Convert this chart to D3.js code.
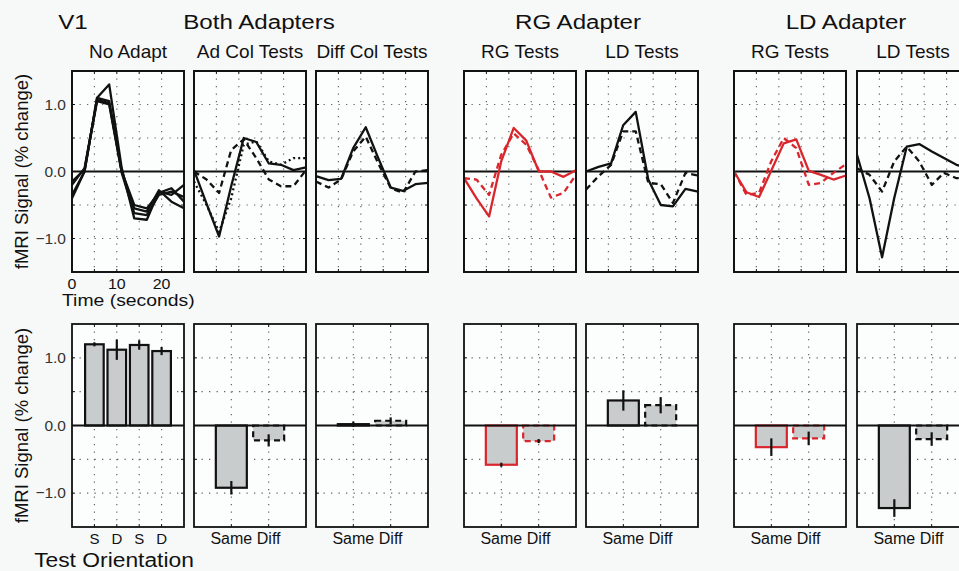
<!DOCTYPE html>
<meta charset="utf-8">
<title>V1 adaptation</title>
<script src="https://cdn.jsdelivr.net/npm/d3@7"></script>
<style>
  body { margin: 0; background: #f7f9f9; }
  text { font-family: "Liberation Sans", Arial, Helvetica, sans-serif; fill: #111; }
</style>
<body>
<div id="my_dataviz"></div>
<script>

// time samples (seconds)
var timeSec = [0, 2.8, 5.6, 8.3, 11.1, 13.9, 16.7, 19.4, 22.2, 25];

// time courses, % change
var noAdaptA = [-0.40, 0.00, 1.10, 1.30, 0.05, -0.70, -0.72, -0.30, -0.35, -0.20];
var noAdaptB = [-0.20, 0.05, 1.07, 1.02, 0.00, -0.50, -0.55, -0.32, -0.25, -0.45];
var noAdaptC = [-0.35, 0.00, 1.10, 1.05, 0.00, -0.55, -0.60, -0.28, -0.45, -0.55];
var noAdaptD = [-0.15, 0.03, 1.05, 1.00, -0.02, -0.62, -0.65, -0.35, -0.30, -0.38];

var adColSame = [0.02, -0.48, -0.97, -0.22, 0.50, 0.44, 0.12, 0.10, 0.02, 0.06];
var adColDiff = [0.00, -0.12, -0.32, 0.32, 0.48, 0.20, -0.12, -0.22, -0.22, 0.02];
var adColDot  = [-0.15, -0.50, -0.90, -0.40, 0.40, 0.45, 0.15, 0.10, 0.20, 0.20];

var diffColSame = [-0.07, -0.13, -0.11, 0.35, 0.66, 0.20, -0.24, -0.29, -0.19, -0.17];
var diffColDiff = [-0.15, -0.24, -0.12, 0.30, 0.52, 0.12, -0.25, -0.32, 0.00, 0.02];

var rgRgSame = [-0.10, -0.40, -0.67, 0.15, 0.65, 0.46, 0.00, 0.00, -0.08, 0.02];
var rgRgDiff = [-0.10, -0.12, -0.35, 0.25, 0.57, 0.40, 0.02, -0.39, -0.32, -0.05];

var rgLdSame = [0.00, 0.07, 0.12, 0.69, 0.89, -0.12, -0.50, -0.52, -0.26, -0.30];
var rgLdDiff = [-0.27, -0.07, 0.10, 0.60, 0.60, -0.17, -0.19, -0.47, -0.02, -0.06];

var ldRgSame = [0.00, -0.31, -0.38, 0.01, 0.42, 0.48, 0.01, -0.05, -0.12, -0.06];
var ldRgDiff = [0.00, -0.35, -0.32, 0.15, 0.50, 0.35, -0.20, -0.17, -0.02, 0.11];

var ldLdSame = [0.25, -0.40, -1.28, -0.40, 0.37, 0.41, 0.30, 0.20, 0.10, 0.05];
var ldLdDiff = [0.05, -0.05, -0.30, 0.15, 0.37, 0.15, -0.20, -0.02, -0.10, -0.10];

// bar heights and errors
var orientLabels = ["S", "D", "S", "D"];
var sameDiffLabels = ["Same", "Diff"];
var noAdaptBars = [1.20, 1.12, 1.19, 1.10], noAdaptErr = [0.03, 0.15, 0.07, 0.06];
var adColBars = [-0.92, -0.22], adColErr = [0.10, 0.09];
var diffColBars = [0.02, 0.07], diffColErr = [0.04, 0.05];
var rgRgBars = [-0.58, -0.23], rgRgErr = [0.03, 0.03];
var rgLdBars = [0.37, 0.30], rgLdErr = [0.15, 0.12];
var ldRgBars = [-0.32, -0.19], ldRgErr = [0.13, 0.10];
var ldLdBars = [-1.22, -0.20], ldLdErr = [0.13, 0.10];

var yTicks = [1.0, 0.0, -1.0];
var yGrid = [-1.0, -0.5, 0.5, 1.0];
var timeTicks = [0, 10, 20];
var timeGrid = [5, 10, 15, 20];

var RED = "#d9262c", INK = "#111";

var panels = [
  {sub: "No Adapt", lines: [
      {v: noAdaptA, c: INK, d: null}, {v: noAdaptB, c: INK, d: null},
      {v: noAdaptC, c: INK, d: null}, {v: noAdaptD, c: INK, d: null}],
   bars: noAdaptBars, err: noAdaptErr, labels: orientLabels, c: INK, dashed: [false, false, false, false]},
  {sub: "Ad Col Tests", lines: [
      {v: adColDot, c: INK, d: "2,3"}, {v: adColDiff, c: INK, d: "6,4"}, {v: adColSame, c: INK, d: null}],
   bars: adColBars, err: adColErr, labels: sameDiffLabels, c: INK, dashed: [false, true]},
  {sub: "Diff Col Tests", lines: [
      {v: diffColDiff, c: INK, d: "6,4"}, {v: diffColSame, c: INK, d: null}],
   bars: diffColBars, err: diffColErr, labels: sameDiffLabels, c: INK, dashed: [false, true]},
  {sub: "RG Tests", lines: [
      {v: rgRgDiff, c: RED, d: "6,4"}, {v: rgRgSame, c: RED, d: null}],
   bars: rgRgBars, err: rgRgErr, labels: sameDiffLabels, c: RED, dashed: [false, true]},
  {sub: "LD Tests", lines: [
      {v: rgLdDiff, c: INK, d: "6,4"}, {v: rgLdSame, c: INK, d: null}],
   bars: rgLdBars, err: rgLdErr, labels: sameDiffLabels, c: INK, dashed: [false, true]},
  {sub: "RG Tests", lines: [
      {v: ldRgDiff, c: RED, d: "6,4"}, {v: ldRgSame, c: RED, d: null}],
   bars: ldRgBars, err: ldRgErr, labels: sameDiffLabels, c: RED, dashed: [false, true]},
  {sub: "LD Tests", lines: [
      {v: ldLdDiff, c: INK, d: "6,4"}, {v: ldLdSame, c: INK, d: null}],
   bars: ldLdBars, err: ldLdErr, labels: sameDiffLabels, c: INK, dashed: [false, true]}
];

// layout
var W = 959, H = 571;
var panelX = [72, 194, 316, 464, 586, 734, 857], panelW = 112;
var topY = 71, topH = 201, barY = 324, barH = 203;

var svg = d3.select("#my_dataviz").append("svg")
    .attr("width", W).attr("height", H)
    .style("display", "block");

function label(g, x, y, str, size, anchor, sx, rot) {
  return g.append("text")
    .attr("transform", "translate(" + x + "," + y + ")" + (rot ? " rotate(" + rot + ")" : "") + " scale(" + (sx || 1) + ",1)")
    .attr("text-anchor", anchor || "middle")
    .style("font-size", size + "px")
    .text(str);
}

var yTop = d3.scaleLinear().domain([-1.5, 1.5]).range([topH, 0]);
var yBar = d3.scaleLinear().domain([-1.5, 1.5]).range([barH, 0]);
var xTime = d3.scaleLinear().domain([0, 25]).range([0, panelW]);

function frame(g, w, h, xs, ys, x, y) {
  g.append("rect").attr("width", w).attr("height", h).attr("fill", "#fcfdfd");
  // dotted grid
  g.selectAll(".gx").data(xs).enter().append("line")
    .attr("x1", function(d) { return x(d); }).attr("x2", function(d) { return x(d); })
    .attr("y1", 0).attr("y2", h)
    .attr("stroke", "#666").attr("stroke-width", 1.2).attr("stroke-dasharray", "1.3,6.2");
  g.selectAll(".gy").data(ys).enter().append("line")
    .attr("y1", function(d) { return y(d); }).attr("y2", function(d) { return y(d); })
    .attr("x1", 0).attr("x2", w)
    .attr("stroke", "#666").attr("stroke-width", 1.2).attr("stroke-dasharray", "1.3,6.2");
  // inward ticks
  xs.forEach(function(d) {
    g.append("line").attr("x1", x(d)).attr("x2", x(d)).attr("y1", 0).attr("y2", 3).attr("stroke", INK);
    g.append("line").attr("x1", x(d)).attr("x2", x(d)).attr("y1", h).attr("y2", h - 3).attr("stroke", INK);
  });
  ys.concat([0]).forEach(function(d) {
    g.append("line").attr("y1", y(d)).attr("y2", y(d)).attr("x1", 0).attr("x2", 3).attr("stroke", INK);
    g.append("line").attr("y1", y(d)).attr("y2", y(d)).attr("x1", w).attr("x2", w - 3).attr("stroke", INK);
  });
}

function border(g, w, h, y) {
  g.append("line").attr("x1", 0).attr("x2", w).attr("y1", y(0)).attr("y2", y(0))
    .attr("stroke", INK).attr("stroke-width", 2.2);
  g.append("rect").attr("width", w).attr("height", h)
    .attr("fill", "none").attr("stroke", INK).attr("stroke-width", 1.8);
}

panels.forEach(function(p, i) {
  // time-course panel
  var g = svg.append("g").attr("transform", "translate(" + panelX[i] + "," + topY + ")");
  frame(g, panelW, topH, timeGrid, yGrid, xTime, yTop);
  border(g, panelW, topH, yTop);
  var line = d3.line()
    .x(function(d, k) { return xTime(timeSec[k]); })
    .y(function(d) { return yTop(d); });
  p.lines.forEach(function(l) {
    g.append("path").datum(l.v).attr("d", line)
      .attr("fill", "none").attr("stroke", l.c).attr("stroke-width", 2.3)
      .attr("stroke-linejoin", "round")
      .attr("stroke-dasharray", l.d);
  });
  // redraw frame edge on top
  g.append("rect").attr("width", panelW).attr("height", topH)
    .attr("fill", "none").attr("stroke", INK).attr("stroke-width", 1.8);
  label(svg, panelX[i] + panelW / 2, 58, p.sub, 19, "middle");

  // bar panel
  var n = p.bars.length;
  var xb = d3.scaleLinear().domain([0, n + 1]).range([0, panelW]);
  var bw = xb(0.83) - xb(0);
  var centers = d3.range(1, n + 1);
  var gb = svg.append("g").attr("transform", "translate(" + panelX[i] + "," + barY + ")");
  frame(gb, panelW, barH, centers, yGrid, xb, yBar);
  gb.selectAll(".bar").data(p.bars).enter().append("rect")
    .attr("x", function(d, k) { return xb(k + 1) - bw / 2; })
    .attr("y", function(d) { return yBar(Math.max(d, 0)); })
    .attr("width", bw)
    .attr("height", function(d) { return Math.abs(yBar(d) - yBar(0)); })
    .attr("fill", "#c9cccd")
    .attr("stroke", p.c).attr("stroke-width", 2.2)
    .attr("stroke-dasharray", function(d, k) { return p.dashed[k] ? "6,4" : null; });
  gb.selectAll(".err").data(p.bars).enter().append("line")
    .attr("x1", function(d, k) { return xb(k + 1); })
    .attr("x2", function(d, k) { return xb(k + 1); })
    .attr("y1", function(d, k) { return yBar(d - p.err[k]); })
    .attr("y2", function(d, k) { return yBar(d + p.err[k]); })
    .attr("stroke", INK).attr("stroke-width", 2.2);
  border(gb, panelW, barH, yBar);
  var fs = n > 2 ? 15 : 16;
  p.labels.forEach(function(t, k) {
    label(gb, xb(k + 1), 220, t, fs, "middle");
  });
});

// y tick labels on the first column
yTicks.forEach(function(t) {
  label(svg, 66, topY + yTop(t) + 5, d3.format(".1f")(t), 15.5, "end").style("fill", "#333");
  label(svg, 66, barY + yBar(t) + 5, d3.format(".1f")(t), 15.5, "end").style("fill", "#333");
});
timeTicks.forEach(function(t) {
  label(svg, panelX[0] + xTime(t), 289, String(t), 14.5, "middle", 1.1);
});

// axis titles
label(svg, 28, topY + topH / 2, "fMRI Signal (% change)", 18.5, "middle", 1, -90);
label(svg, 28, barY + barH / 2, "fMRI Signal (% change)", 18.5, "middle", 1, -90);
label(svg, 62, 306, "Time (seconds)", 17, "start", 1.14);
label(svg, 114, 567, "Test Orientation", 19.5, "middle", 1.17);

// group titles
label(svg, 73, 29, "V1", 21, "middle", 1.15);
label(svg, 259, 29, "Both Adapters", 21, "middle", 1.15);
label(svg, 578, 29, "RG Adapter", 21, "middle", 1.15);
label(svg, 846, 29, "LD Adapter", 21, "middle", 1.15);

</script>
</body>
